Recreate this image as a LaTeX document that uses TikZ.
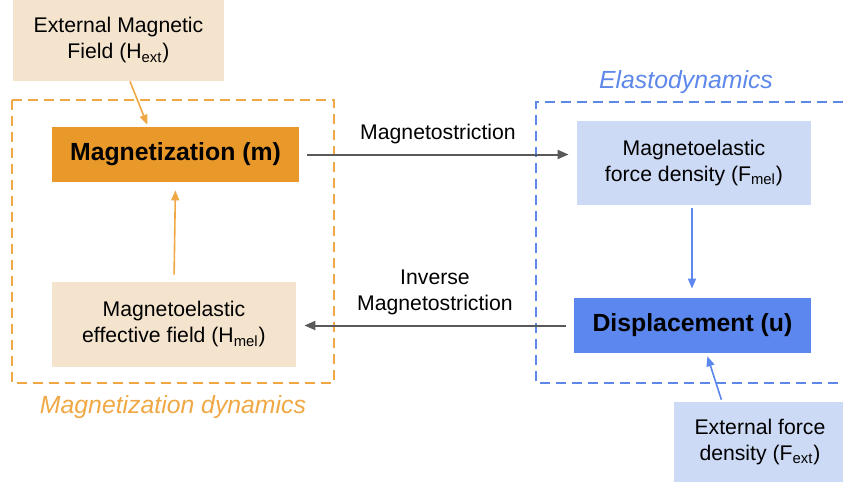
\documentclass[tikz,border=0pt]{standalone}
\usepackage{fontspec}
\setmainfont{Liberation Sans}
\usetikzlibrary{positioning,arrows.meta}
\definecolor{magOrange}{HTML}{E8992A}
\definecolor{magOrangeLn}{HTML}{EFA843}
\definecolor{magBeige}{HTML}{F5E4CD}
\definecolor{elaBlue}{HTML}{5B87EE}
\definecolor{elaBlueLn}{HTML}{5D88EA}
\definecolor{elaBlueLt}{HTML}{CDDAF5}
\definecolor{linkGray}{HTML}{595959}
\tikzset{
  blockbase/.style={inner sep=0pt, align=center,
                    font=\fontsize{10.6}{13}\selectfont},
  srcnode/.style={blockbase, minimum width=105.5pt, minimum height=40.5pt},
  statenode/.style={blockbase, minimum width=123.5pt, minimum height=27.5pt,
                    font=\fontsize{12.4}{14}\selectfont\bfseries},
  coupnode/.style={blockbase, minimum width=122pt, minimum height=42.5pt},
  grouplabel/.style={font=\fontsize{12.4}{14}\selectfont\itshape},
  linklabel/.style={blockbase, text=black},
  groupbox/.style={line width=1pt, dash pattern=on 5pt off 3pt},
  linkarrow/.style={-{Triangle[length=5.5pt, width=4.5pt]}, line width=1pt,
                    linkGray, shorten >=4pt, shorten <=4pt},
  feedarrow/.style={-{Triangle[length=5pt, width=4pt]}, line width=0.8pt},
}
\begin{document}
\begin{tikzpicture}[x=0.5pt, y=-0.5pt]
\useasboundingbox (0,0) rectangle (843,487);

%% Magnetization dynamics
\node[srcnode, fill=magBeige] (hext) at (118.5,40.5) {External Magnetic\\Field (H\textsubscript{ext})};
\node[statenode, fill=magOrange] (mag) at (175.5,154.5) {Magnetization (m)};
\node[coupnode, fill=magBeige] (hmel) at (174,324.5) {Magnetoelastic\\effective field (H\textsubscript{mel})};
\draw[groupbox, magOrangeLn] (12,100) rectangle (334,383);
\node[grouplabel, text=magOrangeLn] (maglabel) at (173,407) {Magnetization dynamics};
\draw[feedarrow, magOrangeLn, shorten >=1pt] ([xshift=5.75pt]hext.south) -- ([xshift=-13.75pt]mag.north);
\draw[feedarrow, magOrangeLn, shorten >=4pt, shorten <=3.5pt] (hmel.north) -- (mag.south);

%% Elastodynamics
\node[coupnode, minimum width=117pt, minimum height=42pt, fill=elaBlueLt] (fmel) at (694,163) {Magnetoelastic\\force density (F\textsubscript{mel})};
\node[statenode, minimum width=118.5pt, fill=elaBlue] (disp) at (692.5,325.5) {Displacement (u)};
\node[srcnode, minimum width=86pt, minimum height=40pt, fill=elaBlueLt] (fext) at (760,442) {External force\\density (F\textsubscript{ext})};
\draw[groupbox, elaBlueLn] (843,102) -- (536,102) -- (536,383) -- (843,383);
\node[grouplabel, text=elaBlueLn] (elalabel) at (686,82) {Elastodynamics};
\draw[feedarrow, elaBlue, shorten >=4.5pt, shorten <=1.5pt] ([xshift=-1pt]fmel.south) -- ([xshift=-0.25pt]disp.north);
\draw[feedarrow, elaBlue, shorten >=1.5pt, shorten <=1pt] ([xshift=-19pt]fext.north) -- ([xshift=7pt]disp.south);

%% Coupling arrows
\draw[linkarrow] (mag.east) -- (fmel.west |- mag.east)
  node[linklabel, midway, above=5pt] (mslabel) {Magnetostriction};
\draw[linkarrow] (disp.west) -- (hmel.east |- disp.west)
  node[linklabel, midway, above=5pt] (imslabel) {Inverse\\Magnetostriction};
\end{tikzpicture}
\end{document}
